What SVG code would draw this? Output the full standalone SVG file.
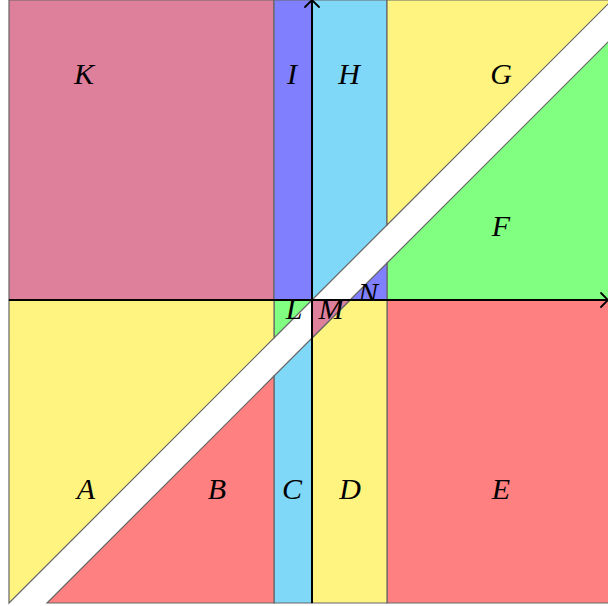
<svg xmlns="http://www.w3.org/2000/svg" width="608" height="606" viewBox="0 0 608 606">
<style>
.r{stroke:#666;stroke-width:1.2;stroke-linejoin:miter}
.pink{fill:#DE7F9C}.purple{fill:#8080FF}.blue{fill:#80D8F8}.yellow{fill:#FFF47F}.green{fill:#80FF80}.red{fill:#FF8080}
.lbl{font-family:"Liberation Serif","DejaVu Serif",serif;font-style:italic;font-size:30px;fill:#000;text-anchor:middle}
.ax{stroke:#000;stroke-width:2;fill:none}
.ah{stroke:#000;stroke-width:1.8;fill:none;stroke-linecap:round}
</style>
<rect width="608" height="606" fill="#fff"/>
<g id="K"><polygon class="r pink" points="9,0 274,0 274,300 9,300"/><text class="lbl" x="84" y="84">K</text></g>
<g id="I"><polygon class="r purple" points="274,0 312,0 312,300 274,300"/><text class="lbl" x="292" y="84">I</text></g>
<g id="H"><polygon class="r blue" points="312,0 387,0 387,225 312,300"/><text class="lbl" x="349" y="84">H</text></g>
<g id="G"><polygon class="r yellow" points="387,0 612,0 387,225"/><text class="lbl" x="501" y="84">G</text></g>
<g id="F"><polygon class="r green" points="387,263 612,38 612,300 387,300"/><text class="lbl" x="501" y="236">F</text></g>
<g id="N"><polygon class="r purple" points="350,300 387,263 387,300"/><text class="lbl" x="368" y="303">N</text></g>
<g id="E"><polygon class="r red" points="387,300 612,300 612,603 387,603"/><text class="lbl" x="501" y="499">E</text></g>
<g id="D"><polygon class="r yellow" points="350,300 387,300 387,603 312,603 312,338"/><text class="lbl" x="350" y="499">D</text></g>
<g id="M"><polygon class="r pink" points="312,300 350,300 312,338"/><text class="lbl" x="331" y="319">M</text></g>
<g id="L"><polygon class="r green" points="274,300 312,300 274,338"/><text class="lbl" x="294" y="319">L</text></g>
<g id="C"><polygon class="r blue" points="274,376 312,338 312,603 274,603"/><text class="lbl" x="292" y="499">C</text></g>
<g id="B"><polygon class="r red" points="47,603 274,376 274,603"/><text class="lbl" x="217" y="499">B</text></g>
<g id="A"><polygon class="r yellow" points="9,300 274,300 274,338 9,603"/><text class="lbl" x="86" y="499">A</text></g>
<g id="connectors">
<line class="ax" x1="9" y1="300" x2="607" y2="300"/>
<line class="ax" x1="312" y1="603" x2="312" y2="1"/>
<path class="ah" d="M305,7 Q309,3 312,0 Q315,3 319,7"/>
<path class="ah" d="M601,293 Q605,297 608,300 Q605,303 601,307"/>
</g>
</svg>
